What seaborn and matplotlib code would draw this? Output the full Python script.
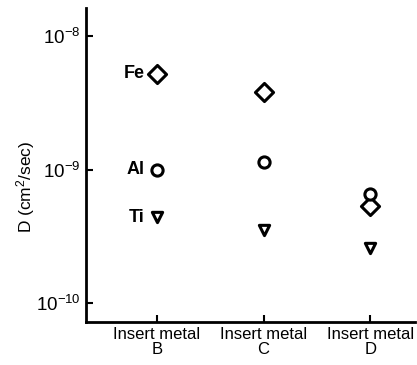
import matplotlib
matplotlib.use("Agg")
import matplotlib.pyplot as plt
import matplotlib.ticker as mticker
import seaborn as sns
import pandas as pd
from matplotlib import font_manager

# Diffusion coefficients of each element for three insert metals
inserts = ["B", "C", "D"]
elements = ["Fe", "Al", "Ti"]
fe_values = [5.2e-9, 3.8e-9, 5.3e-10]
al_values = [1.0e-9, 1.13e-9, 6.6e-10]
ti_values = [4.4e-10, 3.55e-10, 2.6e-10]
tick_labels = ["Insert metal\nB", "Insert metal\nC", "Insert metal\nD"]

rows = []
for el, vals in zip(elements, [fe_values, al_values, ti_values]):
    for i, (ins, v) in enumerate(zip(inserts, vals)):
        rows.append({"pos": i, "insert": ins, "element": el, "D": v})
df = pd.DataFrame(rows)

sns.set_theme(style="ticks")
names = {f.name for f in font_manager.fontManager.ttflist}
narrow = "Liberation Sans Narrow" if "Liberation Sans Narrow" in names else "Liberation Sans"
plt.rcParams["font.family"] = ["Liberation Sans", "DejaVu Sans"]
plt.rcParams["mathtext.fontset"] = "custom"
plt.rcParams["mathtext.rm"] = "Liberation Sans"
for key in ["text.color", "axes.labelcolor", "xtick.color", "ytick.color"]:
    plt.rcParams[key] = "black"

fig = plt.figure(figsize=(4.17, 3.65), dpi=100)
ax = fig.add_axes([0.206, 0.118, 0.789, 0.86])

markers = {"Fe": "D", "Al": "o", "Ti": "v"}
sizes = {"Fe": 85, "Al": 65, "Ti": 55}
for el in elements:
    sub = df[df["element"] == el]
    sns.scatterplot(data=sub, x="pos", y="D", marker=markers[el], s=sizes[el],
                    facecolor="white", edgecolor="black", linewidth=2.2,
                    ax=ax, legend=False, zorder=3)

ax.set_yscale("log")
ax.set_ylim(10 ** -10.142, 10 ** -7.79)
ax.set_xlim(-0.667, 2.42)

ax.yaxis.set_major_locator(mticker.FixedLocator([1e-10, 1e-9, 1e-8]))
ax.yaxis.set_minor_locator(mticker.NullLocator())
ax.set_yticklabels([r"$\mathregular{10^{-10}}$", r"$\mathregular{10^{-9}}$",
                    r"$\mathregular{10^{-8}}$"], fontsize=13.5)
ax.set_xticks([0, 1, 2])
ax.set_xticklabels(tick_labels, fontsize=12, family=narrow, linespacing=1.0)

ax.tick_params(axis="both", direction="in", length=5, width=1.5, color="black")
ax.tick_params(axis="y", pad=4)
ax.tick_params(axis="x", pad=4)

for side in ["top", "right"]:
    ax.spines[side].set_visible(False)
for side in ["left", "bottom"]:
    ax.spines[side].set_linewidth(2)
    ax.spines[side].set_color("black")

ax.set_xlabel("")
ax.set_ylabel(r"D (cm$\mathregular{^2}$/sec)", fontsize=12.5)
ax.yaxis.set_label_coords(-0.148, 0.43)

# element labels next to the Insert metal B markers
for el, vals in zip(elements, [fe_values, al_values, ti_values]):
    ax.annotate(el, (0, vals[0]), xytext=(-9, 0), textcoords="offset points",
                ha="right", va="center", fontsize=13, fontweight="bold")

fig.savefig("out.png", dpi=100, facecolor="white")
